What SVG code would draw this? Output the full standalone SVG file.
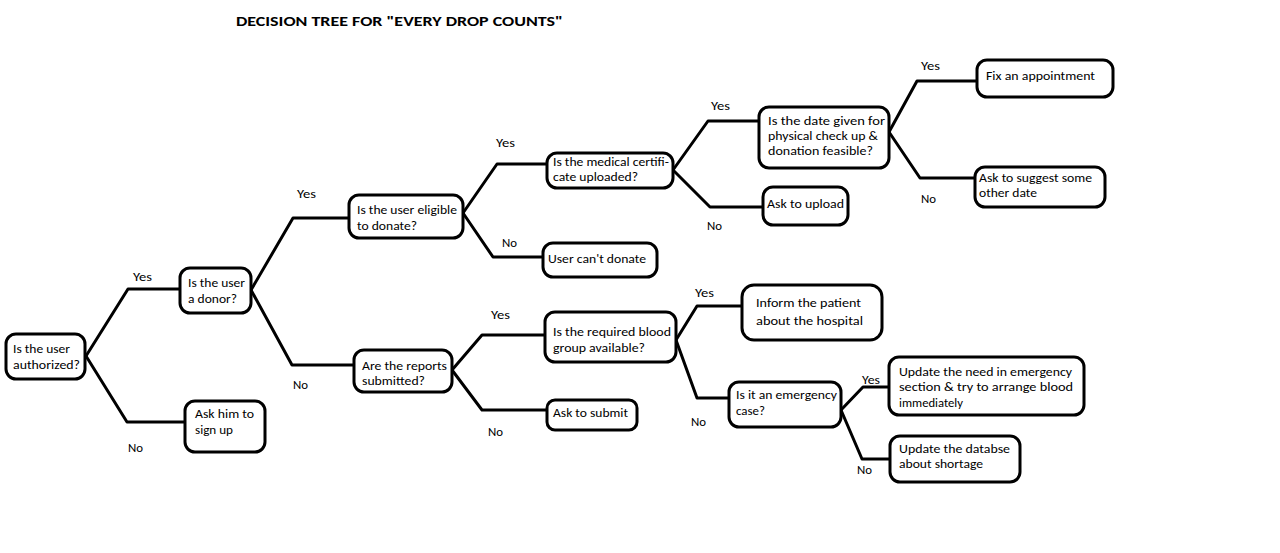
<svg xmlns="http://www.w3.org/2000/svg" width="1280" height="553" viewBox="0 0 1280 553">
<style>
  .bg { fill: #ffffff; }
  .box { fill: #ffffff; stroke: #000000; stroke-width: 3; }
  .edge { fill: none; stroke: #000000; stroke-width: 3; stroke-linejoin: round; stroke-linecap: round; }
  text { font-family: Carlito, Lato, "Liberation Sans", sans-serif; font-size: 13px; fill: #000000; }
  .lbl { font-size: 12.5px; }
  .title { font-weight: bold; font-size: 14.5px; }
</style>
<rect class="bg" x="0" y="0" width="1280" height="553"/>
<text class="title" x="236" y="26" textLength="327" lengthAdjust="spacingAndGlyphs">DECISION TREE FOR "EVERY DROP COUNTS"</text>

<g id="connectors">
  <polyline class="edge" points="86,356 128,289 181,289"/>
  <polyline class="edge" points="86,356 127,422 185,422"/>
  <polyline class="edge" points="251,290 293,218 350,218"/>
  <polyline class="edge" points="251,290 292,365 355,365"/>
  <polyline class="edge" points="463,213 497,164 548,164"/>
  <polyline class="edge" points="463,213 493,257 543,257"/>
  <polyline class="edge" points="673,170 708,121 759,121"/>
  <polyline class="edge" points="673,170 710,207 763,207"/>
  <polyline class="edge" points="889,132 917,81 977,81"/>
  <polyline class="edge" points="889,132 920,178 975,178"/>
  <polyline class="edge" points="452,370 482,335 545,335"/>
  <polyline class="edge" points="452,370 482,410 547,410"/>
  <polyline class="edge" points="676,340 697,306 742,306"/>
  <polyline class="edge" points="676,340 697,398 729,398"/>
  <polyline class="edge" points="841,410 863,387 889,387"/>
  <polyline class="edge" points="841,410 862,459 890,459"/>
  <text class="lbl" x="133" y="281" textLength="19" lengthAdjust="spacingAndGlyphs">Yes</text>
  <text class="lbl" x="128" y="452" textLength="15" lengthAdjust="spacingAndGlyphs">No</text>
  <text class="lbl" x="297" y="198" textLength="19" lengthAdjust="spacingAndGlyphs">Yes</text>
  <text class="lbl" x="293" y="389" textLength="15" lengthAdjust="spacingAndGlyphs">No</text>
  <text class="lbl" x="496" y="147" textLength="19" lengthAdjust="spacingAndGlyphs">Yes</text>
  <text class="lbl" x="502" y="247" textLength="15" lengthAdjust="spacingAndGlyphs">No</text>
  <text class="lbl" x="711" y="110" textLength="19" lengthAdjust="spacingAndGlyphs">Yes</text>
  <text class="lbl" x="707" y="230" textLength="15" lengthAdjust="spacingAndGlyphs">No</text>
  <text class="lbl" x="921" y="70" textLength="19" lengthAdjust="spacingAndGlyphs">Yes</text>
  <text class="lbl" x="921" y="203" textLength="15" lengthAdjust="spacingAndGlyphs">No</text>
  <text class="lbl" x="491" y="319" textLength="19" lengthAdjust="spacingAndGlyphs">Yes</text>
  <text class="lbl" x="488" y="436" textLength="15" lengthAdjust="spacingAndGlyphs">No</text>
  <text class="lbl" x="695" y="297" textLength="19" lengthAdjust="spacingAndGlyphs">Yes</text>
  <text class="lbl" x="691" y="426" textLength="15" lengthAdjust="spacingAndGlyphs">No</text>
  <text class="lbl" x="862" y="384" textLength="18" lengthAdjust="spacingAndGlyphs">Yes</text>
  <text class="lbl" x="857" y="474" textLength="15" lengthAdjust="spacingAndGlyphs">No</text>
</g>

<g id="n-authorized">
  <rect class="box" x="6" y="334" width="79" height="45" rx="10"/>
  <text x="13" y="353" textLength="57" lengthAdjust="spacingAndGlyphs">Is the user</text>
  <text x="13" y="369" textLength="67" lengthAdjust="spacingAndGlyphs">authorized?</text>
</g>
<g id="n-donor">
  <rect class="box" x="180" y="268" width="71" height="45" rx="10"/>
  <text x="188" y="287" textLength="57" lengthAdjust="spacingAndGlyphs">Is the user</text>
  <text x="188" y="303" textLength="49" lengthAdjust="spacingAndGlyphs">a donor?</text>
</g>
<g id="n-signup">
  <rect class="box" x="185" y="401" width="80" height="51" rx="10"/>
  <text x="195" y="418" textLength="59" lengthAdjust="spacingAndGlyphs">Ask him to</text>
  <text x="195" y="434" textLength="38" lengthAdjust="spacingAndGlyphs">sign up</text>
</g>
<g id="n-eligible">
  <rect class="box" x="349" y="195" width="114" height="43" rx="10"/>
  <text x="357" y="214" textLength="100" lengthAdjust="spacingAndGlyphs">Is the user eligible</text>
  <text x="357" y="230" textLength="60" lengthAdjust="spacingAndGlyphs">to donate?</text>
</g>
<g id="n-medical">
  <rect class="box" x="547" y="153" width="126" height="35" rx="10"/>
  <text x="553" y="166" textLength="116" lengthAdjust="spacingAndGlyphs">Is the medical certifi-</text>
  <text x="553" y="181" textLength="85" lengthAdjust="spacingAndGlyphs">cate uploaded?</text>
</g>
<g id="n-cant">
  <rect class="box" x="543" y="243" width="114" height="34" rx="10"/>
  <text x="548" y="263" textLength="98" lengthAdjust="spacingAndGlyphs">User can't donate</text>
</g>
<g id="n-date">
  <rect class="box" x="759" y="107" width="130" height="61" rx="10"/>
  <text x="768" y="125" textLength="117" lengthAdjust="spacingAndGlyphs">Is the date given for</text>
  <text x="768" y="140" textLength="110" lengthAdjust="spacingAndGlyphs">physical check up &amp;</text>
  <text x="768" y="155" textLength="105" lengthAdjust="spacingAndGlyphs">donation feasible?</text>
</g>
<g id="n-upload">
  <rect class="box" x="763" y="187" width="85" height="38" rx="10"/>
  <text x="767" y="208" textLength="77" lengthAdjust="spacingAndGlyphs">Ask to upload</text>
</g>
<g id="n-fix">
  <rect class="box" x="977" y="60" width="136" height="37" rx="10"/>
  <text x="986" y="80" textLength="109" lengthAdjust="spacingAndGlyphs">Fix an appointment</text>
</g>
<g id="n-suggest">
  <rect class="box" x="975" y="167" width="130" height="40" rx="10"/>
  <text x="979" y="182" textLength="113" lengthAdjust="spacingAndGlyphs">Ask to suggest some</text>
  <text x="979" y="197" textLength="58" lengthAdjust="spacingAndGlyphs">other date</text>
</g>
<g id="n-reports">
  <rect class="box" x="354" y="350" width="98" height="42" rx="10"/>
  <text x="362" y="370" textLength="85" lengthAdjust="spacingAndGlyphs">Are the reports</text>
  <text x="362" y="385" textLength="63" lengthAdjust="spacingAndGlyphs">submitted?</text>
</g>
<g id="n-blood">
  <rect class="box" x="545" y="312" width="131" height="50" rx="10"/>
  <text x="553" y="336" textLength="118" lengthAdjust="spacingAndGlyphs">Is the required blood</text>
  <text x="553" y="352" textLength="92" lengthAdjust="spacingAndGlyphs">group available?</text>
</g>
<g id="n-submit">
  <rect class="box" x="547" y="400" width="90" height="30" rx="8"/>
  <text x="553" y="417" textLength="75" lengthAdjust="spacingAndGlyphs">Ask to submit</text>
</g>
<g id="n-inform">
  <rect class="box" x="742" y="285" width="140" height="55" rx="12"/>
  <text x="756" y="307" textLength="105" lengthAdjust="spacingAndGlyphs">Inform the  patient</text>
  <text x="756" y="325" textLength="107" lengthAdjust="spacingAndGlyphs">about the  hospital</text>
</g>
<g id="n-emergency">
  <rect class="box" x="729" y="382" width="112" height="45" rx="10"/>
  <text x="736" y="399" textLength="101" lengthAdjust="spacingAndGlyphs">Is it an emergency</text>
  <text x="736" y="415" textLength="29" lengthAdjust="spacingAndGlyphs">case?</text>
</g>
<g id="n-update">
  <rect class="box" x="889" y="357" width="195" height="58" rx="10"/>
  <text x="899" y="376" textLength="173" lengthAdjust="spacingAndGlyphs">Update the need in emergency</text>
  <text x="899" y="391" textLength="174" lengthAdjust="spacingAndGlyphs">section &amp; try to arrange blood</text>
  <text x="899" y="407" textLength="64" lengthAdjust="spacingAndGlyphs">immediately</text>
</g>
<g id="n-databse">
  <rect class="box" x="890" y="436" width="130" height="46" rx="10"/>
  <text x="899" y="453" textLength="111" lengthAdjust="spacingAndGlyphs">Update the databse</text>
  <text x="899" y="468" textLength="84" lengthAdjust="spacingAndGlyphs">about shortage</text>
</g>
</svg>
